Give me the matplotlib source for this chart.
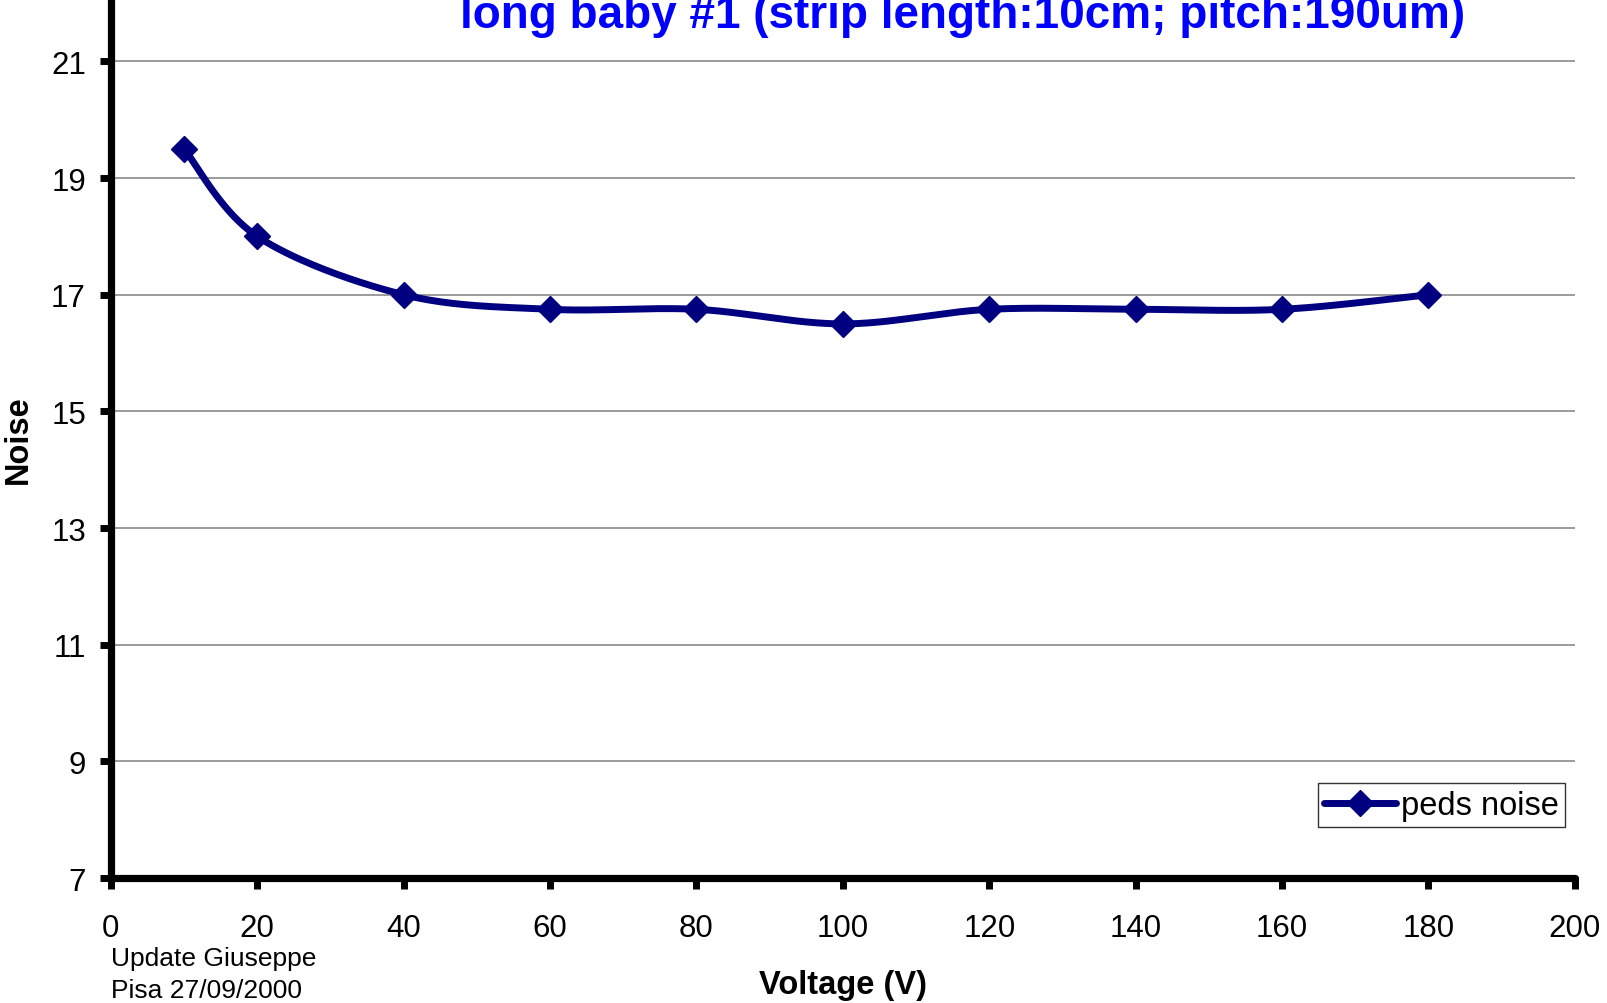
import matplotlib
matplotlib.use('Agg')
import matplotlib.pyplot as plt
import numpy as np

plt.rcParams['font.family'] = ['Liberation Sans', 'DejaVu Sans']

# Data
voltage = [10, 20, 40, 60, 80, 100, 120, 140, 160, 180]
noise = [19.5, 18.0, 17.0, 16.75, 16.75, 16.5, 16.75, 16.75, 16.75, 17.0]
x_ticks = [0, 20, 40, 60, 80, 100, 120, 140, 160, 180, 200]
y_ticks = [7, 9, 11, 13, 15, 17, 19, 21]


def smooth(xs, ys, sx, sy, n=40):
    # Catmull-Rom through the points (like Excel's smoothed line), in screen-ish scale
    p = np.column_stack([np.array(xs) * sx, np.array(ys) * sy])
    p = np.vstack([p[0], p, p[-1]])
    out = []
    for i in range(1, len(p) - 2):
        p0, p1, p2, p3 = p[i - 1], p[i], p[i + 1], p[i + 2]
        t = np.linspace(0, 1, n)[:, None]
        seg = 0.5 * ((2 * p1) + (-p0 + p2) * t + (2 * p0 - 5 * p1 + 4 * p2 - p3) * t ** 2
                     + (-p0 + 3 * p1 - 3 * p2 + p3) * t ** 3)
        out.append(seg)
    out = np.vstack(out)
    return out[:, 0] / sx, out[:, 1] / sy


fig = plt.figure(figsize=(16.07, 10.04), dpi=100)
ax = fig.add_axes([0.069, 0.1245, 0.911, 0.8755])

ax.set_xlim(0, 200)
ax.set_ylim(7, 22.07)

# pixels per data unit
sx = 1464 / 200
sy = 879 / 15.07
cx, cy = smooth(voltage, noise, sx, sy)
ax.plot(cx, cy, color='#000080', lw=5, solid_capstyle='round', zorder=3)
ax.plot(voltage, noise, ls='none', marker='D', ms=13.5, color='#000080', zorder=4)
# legend proxy
ax.plot([], [], color='#000080', lw=5, marker='D', ms=13.5, solid_capstyle='round',
        label='peds noise')

ax.set_xticks(x_ticks)
ax.set_yticks(y_ticks)
for yv in y_ticks[1:]:
    ax.axhline(yv, color='#808080', lw=1.1, zorder=1)

for s in ['top', 'right']:
    ax.spines[s].set_visible(False)
for s in ['left', 'bottom']:
    ax.spines[s].set_linewidth(5.2)
    ax.spines[s].set_capstyle('round')
ax.tick_params(axis='both', direction='out', length=8, width=5, labelsize=22.5)
ax.tick_params(axis='y', pad=10)
ax.tick_params(axis='x', pad=17)

ax.set_xlabel('Voltage (V)', fontsize=23.5, fontweight='bold', labelpad=19)
ax.set_ylabel('Noise', fontsize=23.5, fontweight='bold', labelpad=12)

fig.text(0.599, 0.972, 'long baby #1 (strip length:10cm; pitch:190um)', color='#0000ff',
         fontsize=33, fontweight='bold', ha='center', va='baseline')

fig.text(0.069, 0.045, 'Update Giuseppe', fontsize=19, ha='left', va='center')
fig.text(0.069, 0.013, 'Pisa 27/09/2000', fontsize=19, ha='left', va='center')

leg = ax.legend(loc='lower right', bbox_to_anchor=(0.9935, 0.0575), fontsize=23.5,
                frameon=True, fancybox=False, handlelength=2.2, handletextpad=0.15,
                borderpad=0.2, borderaxespad=0)
leg.get_frame().set_edgecolor('black')
leg.get_frame().set_linewidth(1.0)

fig.savefig('out.png', dpi=100)
